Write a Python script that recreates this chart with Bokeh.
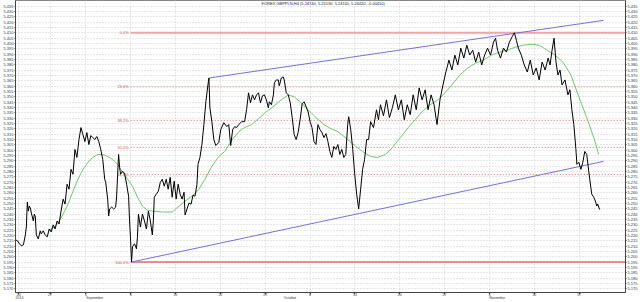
from bokeh.plotting import figure
from bokeh.models import Range1d, LinearAxis, FixedTicker, PrintfTickFormatter, Label, Grid
from bokeh.core.properties import value
from bokeh.embed import file_html
from bokeh.resources import INLINE

title_text = "FOREX GBPPLN,H4 (5.24740, 5.25130, 5.24110, 5.24420, -0.00410)"

# time in trading days since Mon 1 Sep 2014 (H4 bars, weekends compressed)
price_t = [-7.85, -7.63, -7.41, -7.19, -6.97, -6.75, -6.64, -6.53, -6.42, -6.31, -6.19, -6.08, -5.86, -5.75,
           -5.64, -5.53, -5.31, -5.20, -5.09, -4.98, -4.76,
           -4.54, -4.31, -4.09, -3.87, -3.65, -3.43, -3.21, -2.99, -2.77, -2.54, -2.32, -2.10, -1.88, -1.66,
           -1.44, -1.22, -1.00, -0.77, -0.55, -0.33, -0.11, 0.11, 0.33, 0.55, 0.77, 1.00, 1.22,
           1.44, 1.66, 1.88, 2.10, 2.21, 2.43, 2.54, 2.65, 2.88, 3.10, 3.32, 3.43, 3.54, 3.65, 3.76, 3.87,
           4.09, 4.31, 4.54, 4.76, 4.87, 4.98, 5.09, 5.20, 5.42, 5.64, 5.75, 5.86, 6.08, 6.31, 6.53, 6.75,
           6.97, 7.19, 7.41, 7.52, 7.63, 7.85, 8.08, 8.30, 8.52, 8.74, 8.96, 9.18, 9.40, 9.62, 9.85, 10.07,
           10.29, 10.51, 10.73, 10.95, 11.06, 11.28, 11.50, 11.73, 11.95, 12.17, 12.39, 12.50, 12.72, 12.94,
           13.16, 13.38, 13.61, 13.72, 13.83, 14.05, 14.27, 14.49, 14.82, 15.04, 15.38, 15.71, 15.93, 16.15,
           16.37, 16.59, 16.81,
           17.04, 17.37, 17.70, 17.92, 18.14, 18.36, 18.58, 18.81, 19.03, 19.25, 19.47, 19.69, 19.91, 20.13,
           20.35, 20.46, 20.69, 20.91, 21.02, 21.24, 21.46, 21.57, 21.79, 22.01, 22.12, 22.35, 22.57, 22.79,
           23.01, 23.23, 23.45, 23.67, 23.89, 24.12, 24.34, 24.56, 24.78, 25.00, 25.22, 25.44, 25.66, 25.88,
           26.11, 26.33, 26.55, 26.77, 26.99, 27.21, 27.43, 27.65, 27.88, 28.10, 28.32, 28.54, 28.76, 28.98,
           29.20, 29.31, 29.54, 29.76, 29.98, 30.20, 30.42, 30.64, 30.86, 31.08, 31.31, 31.53, 31.75,
           32.08, 32.41, 32.63, 32.85, 33.19, 33.52, 33.85, 34.18, 34.51, 34.85, 35.18, 35.51, 35.84, 36.17,
           36.50, 36.84, 37.17, 37.50, 37.83, 38.16, 38.50, 38.83, 39.16, 39.49, 39.82, 40.15, 40.49, 40.82,
           41.15, 41.48, 41.81, 42.15, 42.48, 42.81, 43.14, 43.47, 43.81, 44.14, 44.47, 44.80, 45.13, 45.46,
           45.69, 45.91, 46.24, 46.57, 46.90, 47.23, 47.57, 47.79, 48.01, 48.23, 48.56, 48.89, 49.23, 49.56,
           49.89, 50.22, 50.55, 50.88, 51.22, 51.55, 51.77, 51.99, 52.21, 52.43, 52.65, 52.88, 53.10, 53.43,
           53.76, 53.98, 54.20, 54.42, 54.65, 54.76, 54.98, 55.20, 55.42, 55.64, 55.86, 56.08, 56.31, 56.42,
           56.64, 56.86, 56.97, 57.08, 57.30]
price_close = [5.2158, 5.2149, 5.2121, 5.2102, 5.2111, 5.2204, 5.2279, 5.2512, 5.2428, 5.2475, 5.2456, 5.2409,
               5.2335, 5.2400, 5.2372, 5.2204, 5.2167, 5.2204, 5.2242, 5.2214, 5.2242,
               5.2204, 5.2186, 5.2260, 5.2232, 5.2298, 5.2260, 5.2335, 5.2307, 5.2428, 5.2540, 5.2493, 5.2680,
               5.2633, 5.2819, 5.2773, 5.3006, 5.2931, 5.3099, 5.3211, 5.3145, 5.3080, 5.3164, 5.3052, 5.3136,
               5.3117, 5.3099, 5.3127,
               5.3080, 5.3006, 5.2912, 5.2726, 5.2698, 5.2540, 5.2381, 5.2447, 5.2465, 5.2447, 5.2465, 5.2568,
               5.2773, 5.2959, 5.2838, 5.2773, 5.2801, 5.2782, 5.2680, 5.2568, 5.2335, 5.2167, 5.1950, 5.2093,
               5.2121, 5.2074, 5.2186, 5.2400, 5.2279, 5.2400, 5.2335, 5.2260, 5.2428, 5.2335, 5.2204, 5.2335,
               5.2558, 5.2586, 5.2614, 5.2698, 5.2726, 5.2661, 5.2726, 5.2633, 5.2745, 5.2558, 5.2708, 5.2540,
               5.2680, 5.2586, 5.2540, 5.2605, 5.2391, 5.2447, 5.2503, 5.2493, 5.2577, 5.2568, 5.2680, 5.2866,
               5.2931, 5.3052, 5.3239, 5.3453, 5.3611, 5.3676, 5.3397, 5.3266, 5.3099, 5.3043, 5.3071, 5.3192,
               5.3257, 5.3220, 5.3239, 5.3043, 5.3192, 5.3220, 5.3211,
               5.3239, 5.3266, 5.3266, 5.3378, 5.3537, 5.3444, 5.3518, 5.3471, 5.3518, 5.3537, 5.3444, 5.3509,
               5.3518, 5.3471, 5.3397, 5.3453, 5.3425, 5.3518, 5.3630, 5.3658, 5.3658, 5.3602, 5.3676, 5.3686,
               5.3658, 5.3537, 5.3518, 5.3444, 5.3304, 5.3145, 5.3099, 5.3164, 5.3285, 5.3434, 5.3453, 5.3406,
               5.3360, 5.3266, 5.3211, 5.3080, 5.3052, 5.3239, 5.3192, 5.3164, 5.3117, 5.3155, 5.3080, 5.2987,
               5.2931, 5.3034, 5.3006, 5.3052, 5.2959, 5.3006, 5.2931, 5.2959, 5.3239, 5.3313, 5.3192, 5.3006,
               5.2773, 5.2586, 5.2447, 5.2633, 5.2819, 5.2912, 5.3099, 5.3099, 5.3266,
               5.3211, 5.3378, 5.3285, 5.3425, 5.3322, 5.3471, 5.3304, 5.3397,
               5.3518, 5.3378, 5.3471, 5.3285, 5.3425, 5.3332, 5.3518, 5.3378, 5.3583, 5.3471, 5.3565, 5.3378,
               5.3518, 5.3425, 5.3239, 5.3471, 5.3611, 5.3732, 5.3844, 5.3751, 5.3891, 5.3798, 5.3956, 5.3863,
               5.3984, 5.3891, 5.3937, 5.3825, 5.3919, 5.3798, 5.3891, 5.3956, 5.3891, 5.4012, 5.4049, 5.3937,
               5.3863, 5.3956, 5.3919, 5.4012, 5.4068, 5.4100, 5.4030, 5.3956, 5.3891, 5.3798, 5.3732, 5.3844,
               5.3704, 5.3770, 5.3658, 5.3825, 5.3751, 5.3863, 5.3798, 5.3937, 5.4049, 5.3825, 5.3704, 5.3751,
               5.3611, 5.3658, 5.3518, 5.3565, 5.3378, 5.3239, 5.3006, 5.2866, 5.2885, 5.2819, 5.2885, 5.2987,
               5.2959, 5.2801, 5.2652, 5.2586, 5.2558, 5.2512, 5.2475, 5.2493, 5.2442]

ma_t = [-4.20, -3.65, -3.10, -2.54, -1.99, -1.44, -0.88, -0.33, 0.22, 0.77, 1.33, 1.88, 2.43, 2.99, 3.54,
        4.09, 4.65, 5.20, 5.75, 6.31, 6.86, 7.41, 8.52, 9.62, 10.40, 11.06, 11.84, 12.61, 13.27, 14.05,
        14.82, 15.49, 16.26, 17.04, 17.70, 18.47, 19.25, 20.13, 21.02, 21.79, 22.57, 23.23, 24.00, 24.78,
        25.66, 26.55, 27.32, 28.10, 29.20, 30.09, 30.86, 31.75, 32.52, 33.41, 34.18, 35.07, 35.95, 36.73,
        37.50, 38.38, 39.27, 40.04, 40.82, 41.70, 42.59, 43.47, 44.36, 45.24, 46.13, 47.01, 47.90, 48.78,
        49.67, 50.55, 51.44, 52.32, 53.21, 54.09, 54.98, 55.86, 56.64, 57.19]
ma_value = [5.2242, 5.2270, 5.2316, 5.2400, 5.2493, 5.2614, 5.2726, 5.2819, 5.2885, 5.2931, 5.2959, 5.2959,
            5.2940, 5.2912, 5.2866, 5.2791, 5.2726, 5.2661, 5.2558, 5.2475, 5.2437, 5.2428, 5.2419, 5.2419,
            5.2475, 5.2521, 5.2568, 5.2633, 5.2726, 5.2847, 5.2940, 5.2987, 5.3090, 5.3173, 5.3211, 5.3239,
            5.3294, 5.3360, 5.3416, 5.3471, 5.3518, 5.3499, 5.3444, 5.3378, 5.3304, 5.3239, 5.3201, 5.3173,
            5.3099, 5.3034, 5.2987, 5.2940, 5.2931, 5.2959, 5.3024, 5.3117, 5.3211, 5.3285, 5.3360, 5.3425,
            5.3471, 5.3537, 5.3611, 5.3704, 5.3770, 5.3816, 5.3844, 5.3891, 5.3919, 5.3937, 5.3965, 5.3984,
            5.3993, 5.3984, 5.3937, 5.3891, 5.3825, 5.3704, 5.3499, 5.3304, 5.3117, 5.2959]

chan_upper_t = [13.72, 57.74]
chan_upper_p = [5.3676, 5.4217]
chan_lower_t = [5.09, 57.74]
chan_lower_p = [5.1950, 5.2894]

fib_high = 5.4100
fib_low = 5.1950
fib_start = 5.0
fib_ratios = [0.0, 0.236, 0.382, 0.5, 0.618, 1.0]
fib_labels = ["0.0%", "23.6%", "38.2%", "50.0%", "61.8%", "100.0%"]

y_ticks = [round(5.170 + 0.005 * i, 3) for i in range(54)]
day_ticks = [-7.5, -4.0, 0.0, 5.0, 10.0, 15.0, 20.0, 25.0, 30.0, 35.0, 40.0, 45.0, 50.0, 55.0]
day_labels = ["24", "27", "1", "8", "15", "22", "29", "6", "13", "20", "27", "3", "10", "17"]
month_starts = [-7.85, 0.0, 22.0, 45.0]
month_labels = ["2014", "September", "October", "November"]

FONT = "Liberation Sans"
X0, X1 = -7.85, 60.18
Y0, Y1 = 5.1664, 5.4403

p = figure(width=640, height=302, x_range=Range1d(X0, X1), y_range=Range1d(Y0, Y1),
           x_axis_type=None, y_axis_type=None, output_backend="svg", toolbar_location=None,
           min_border=0, min_border_left=0, min_border_right=0, min_border_top=0, min_border_bottom=0)
p.outline_line_color = "#888888"
p.background_fill_color = "white"
p.border_fill_color = "white"

yt = FixedTicker(ticks=y_ticks)
for side in ("left", "right"):
    ax = LinearAxis(ticker=yt, formatter=PrintfTickFormatter(format="%.3f"))
    ax.major_label_text_font_size = "4px"
    ax.major_label_text_font = FONT
    ax.major_label_text_color = "#333333"
    ax.major_tick_out = 1
    ax.major_tick_in = 0
    ax.minor_tick_line_color = None
    ax.major_label_standoff = 1
    ax.axis_line_color = "#444444"
    ax.major_tick_line_color = "#444444"
    p.add_layout(ax, side)

xa = LinearAxis(ticker=FixedTicker(ticks=day_ticks))
xa.major_label_overrides = {t: l for t, l in zip(day_ticks, day_labels)}
xa.major_label_text_font_size = "3.5px"
xa.major_label_text_font = FONT
xa.major_label_text_color = "#333333"
xa.major_tick_out = 2
xa.major_tick_in = 0
xa.minor_tick_line_color = None
xa.major_label_standoff = -2
xa.axis_line_color = "#444444"
xa.major_tick_line_color = "#444444"
p.add_layout(xa, "below")

month_pos = [m + 0.11 * len(l) for m, l in zip(month_starts, month_labels)]
ma_ax = LinearAxis(ticker=FixedTicker(ticks=month_pos))
ma_ax.major_label_overrides = {t: l for t, l in zip(month_pos, month_labels)}
ma_ax.major_label_text_font_size = "3.5px"
ma_ax.major_label_text_font = FONT
ma_ax.major_label_text_color = "#333333"
ma_ax.major_tick_out = 0
ma_ax.major_tick_in = 0
ma_ax.minor_tick_line_color = None
ma_ax.major_tick_line_color = None
ma_ax.axis_line_color = None
ma_ax.major_label_standoff = -3
p.add_layout(ma_ax, "below")

p.add_layout(Grid(dimension=1, ticker=yt, grid_line_color="#cfcfcf", grid_line_dash="1 2"))
p.add_layout(Grid(dimension=0, ticker=FixedTicker(ticks=day_ticks), grid_line_color="#cfcfcf",
                  grid_line_dash="1 2"))

# Fibonacci retracement
fib_levels = [fib_high - r * (fib_high - fib_low) for r in fib_ratios]
dotted = [lv for r, lv in zip(fib_ratios, fib_levels) if r not in (0.0, 1.0)]
p.segment(x0=[fib_start], x1=[X1 + 1], y0=[fib_levels[0]], y1=[fib_levels[0]],
          line_color="#f2a4a4", line_width=2)
p.segment(x0=[fib_start], x1=[X1 + 1], y0=[fib_levels[-1]], y1=[fib_levels[-1]],
          line_color="#e86a6a", line_width=1.3)
p.segment(x0=[fib_start] * len(dotted), x1=[X1 + 1] * len(dotted), y0=dotted, y1=dotted,
          line_color="#e06a6a", line_width=1, line_dash="1 2")
p.text(x=[fib_start] * len(fib_levels), y=fib_levels, text=fib_labels, text_align="right",
       text_baseline="middle", x_offset=-2, text_font_size="4px", text_color="#e04848",
       text_font=value(FONT))

# channel
p.line(chan_upper_t, chan_upper_p, line_color="#7272d8", line_width=1)
p.line(chan_lower_t, chan_lower_p, line_color="#7272d8", line_width=1)

# moving average and price
p.line(ma_t, ma_value, line_color="#74c274", line_width=1)
p.line(price_t, price_close, line_color="#000000", line_width=1)

p.add_layout(Label(x=(X0 + X1) / 2 + 0.3, y=Y1, text=title_text, text_align="center",
                   text_baseline="top", text_font_size="4px", text_font=FONT,
                   text_color="#222222"))

open("out.html", "w").write(file_html(p, INLINE))
